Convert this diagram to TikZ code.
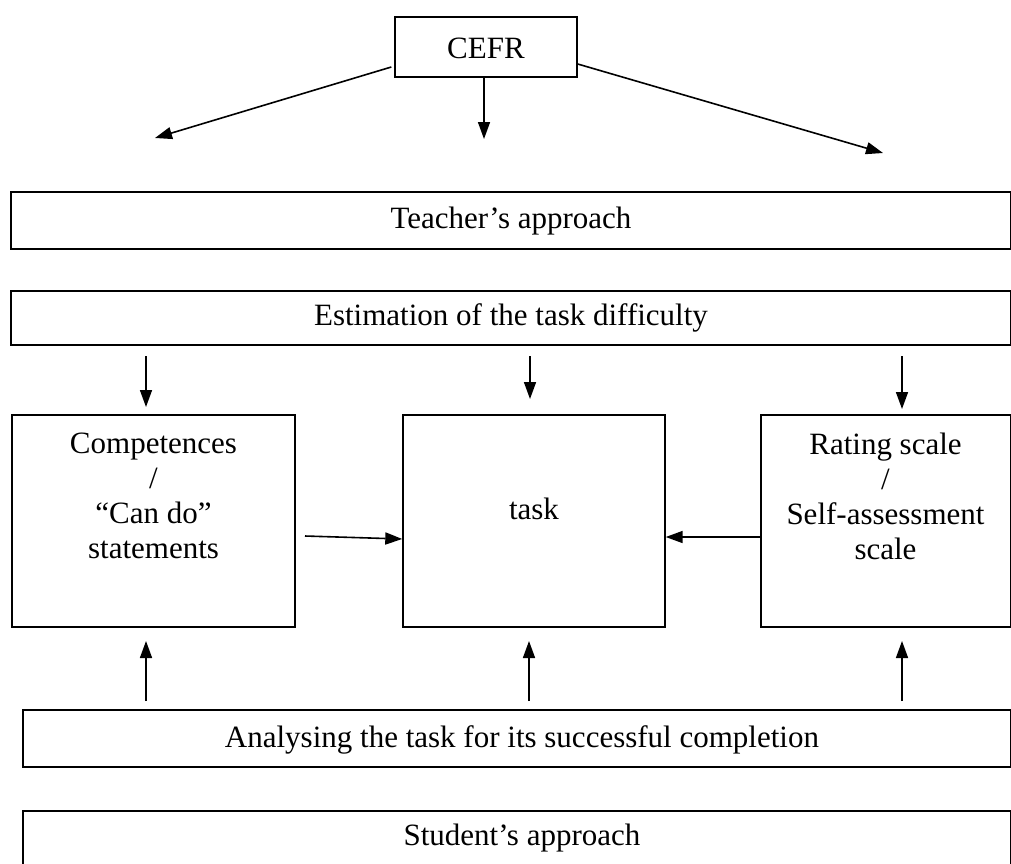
\documentclass[tikz,border=0pt]{standalone}
\usepackage{fontspec}
\setmainfont{Liberation Serif}
\usetikzlibrary{arrows.meta}
\begin{document}
\begin{tikzpicture}[x=1pt,y=-1pt,
  box/.style={draw, line width=1.4pt, inner sep=0pt},
  txt/.style={align=center, inner sep=0pt, font=\fontsize{31}{35}\selectfont},
  arr/.style={line width=1.6pt, -{Triangle[length=17pt,width=12pt]}}]
\useasboundingbox (0,0) rectangle (1011,863);

% source framework
\node[box, minimum width=182, minimum height=60] (cefr) at (486,47) {};
\node[txt] (cefrtext) at (486,48) {CEFR};

% horizontal bands (right edges run to the border of the page)
\node[box, minimum width=1000, minimum height=57] (teacher) at (511,220.5) {};
\node[txt] (teachertext) at (511,221) {Teacher’s approach};
\node[box, minimum width=1000, minimum height=54] (est) at (511,318) {};
\node[txt] (esttext) at (511,318) {Estimation of the task difficulty};

% three central boxes
\node[box, minimum width=283, minimum height=212] (comp) at (153.5,521) {};
\node[txt] (comptext) at (153.5,496) {Competences\\/\\“Can do”\\statements};
\node[box, minimum width=262, minimum height=212] (task) at (534,521) {};
\node[txt] (tasktext) at (534,509) {task};
\node[box, minimum width=250, minimum height=212] (rating) at (886,521) {};
\node[txt] (ratingtext) at (885.5,496) {Rating scale\\/\\Self-assessment\\scale};

% lower bands
\node[box, minimum width=988, minimum height=57] (anal) at (517,738.5) {};
\node[txt] (analtext) at (522,740) {Analysing the task for its successful completion};
\node[box, minimum width=988, minimum height=70] (student) at (517,846) {};
\node[txt] (studenttext) at (522,838) {Student’s approach};

% free ends of the arrows
\coordinate (c1) at (155,138);
\coordinate (c2) at (484,139);
\coordinate (c3) at (883,153);
\coordinate (d1s) at (146,356); \coordinate (d1e) at (146,407);
\coordinate (d2s) at (530,356); \coordinate (d2e) at (530,399);
\coordinate (d3s) at (902,356); \coordinate (d3e) at (902,409);
\coordinate (u1s) at (146,701); \coordinate (u1e) at (146,641);
\coordinate (u2s) at (529,701); \coordinate (u2e) at (529,641);
\coordinate (u3s) at (902,701); \coordinate (u3e) at (902,641);
\coordinate (cin) at (305,536);

% arrows out of the CEFR box
\draw[arr] ([shift={(-3pt,-20pt)}]cefr.west) -- (c1);
\draw[arr] ([xshift=-2pt]cefr.south) -- (c2);
\draw[arr] ([yshift=-17pt]cefr.east) -- (c3);

% arrows down from the difficulty band
\draw[arr] (d1s) -- (d1e);
\draw[arr] (d2s) -- (d2e);
\draw[arr] (d3s) -- (d3e);

% arrows into the task box
\draw[arr] (cin) -- ([yshift=-18pt]task.west);
\draw[arr] ([yshift=-16pt]rating.west) -- ([yshift=-16pt]task.east);

% arrows up from the analysis band
\draw[arr] (u1s) -- (u1e);
\draw[arr] (u2s) -- (u2e);
\draw[arr] (u3s) -- (u3e);
\end{tikzpicture}
\end{document}
